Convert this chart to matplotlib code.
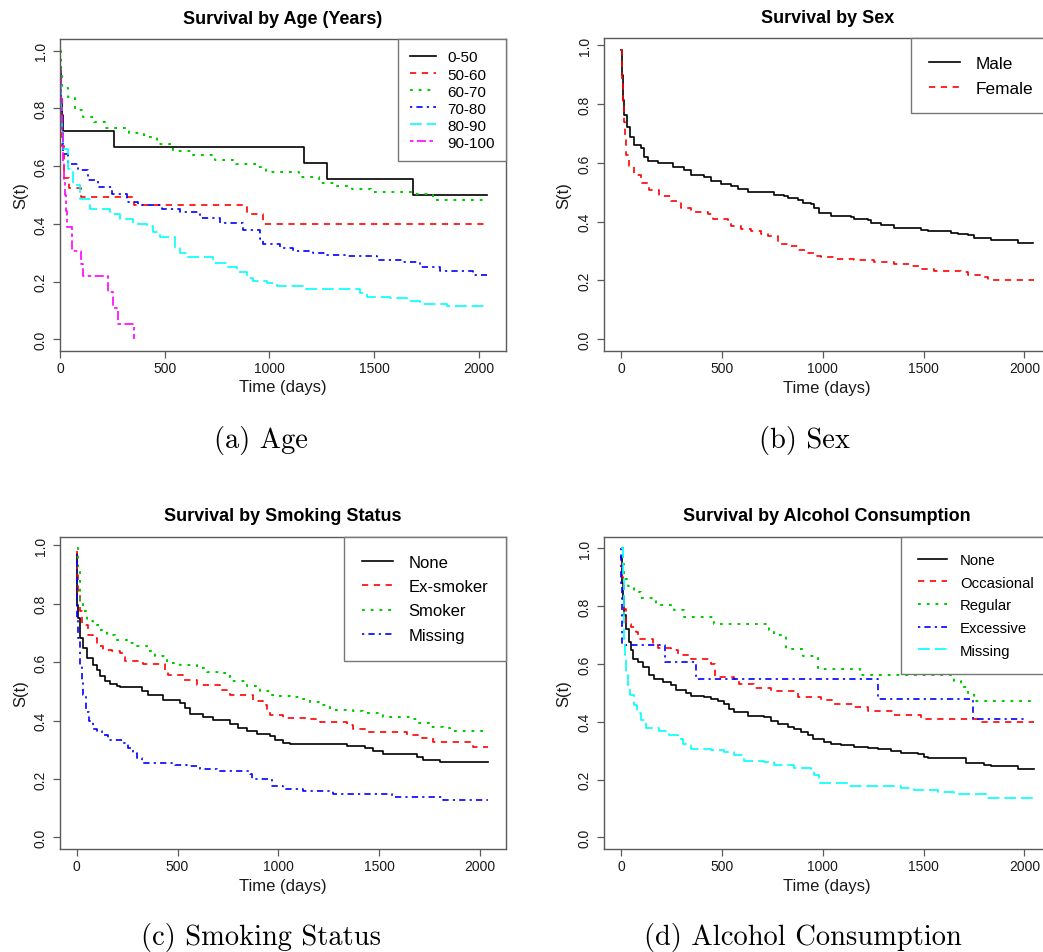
import matplotlib
matplotlib.use("Agg")
import matplotlib.pyplot as plt

plt.rcParams['font.family'] = ['Liberation Sans', 'DejaVu Sans']
plt.rcParams['lines.scale_dashes'] = False

# ---- data (time in days, survival) ----
# (a) age
age_labels = ["0-50", "50-60", "60-70", "70-80", "80-90", "90-100"]
age_0_50_t = [0, 2, 4, 6, 9, 12, 259, 1165, 1273, 1687, 2040]
age_0_50_s = [1.0, 0.944, 0.889, 0.833, 0.778, 0.722, 0.667, 0.611, 0.556, 0.500, 0.500]
age_50_60_t = [0, 2, 4, 7, 10, 18, 45, 100, 352, 895, 971, 2040]
age_50_60_s = [1.0, 0.9, 0.8, 0.72, 0.67, 0.56, 0.524, 0.494, 0.466, 0.433, 0.40, 0.40]
age_60_70_t = [0, 3, 8, 40, 70, 110, 160, 215, 330, 400, 461, 541, 630, 740, 840, 940,
               985, 1140, 1235, 1315, 1395, 1485, 1690, 1780, 2045]
age_60_70_s = [1.0, 0.93, 0.87, 0.84, 0.793, 0.77, 0.752, 0.732, 0.714, 0.70, 0.675, 0.654,
               0.639, 0.622, 0.606, 0.596, 0.579, 0.562, 0.541, 0.531, 0.52, 0.51, 0.505, 0.484, 0.484]
age_70_80_t = [0, 2, 5, 9, 16, 40, 88, 135, 183, 247, 318, 374, 485, 573, 668, 764, 875, 955,
               970, 1050, 1114, 1209, 1273, 1368, 1511, 1639, 1718, 1814, 1973, 2036]
age_70_80_s = [1.0, 0.9, 0.8, 0.72, 0.643, 0.608, 0.585, 0.551, 0.528, 0.505, 0.476, 0.467,
               0.453, 0.441, 0.422, 0.404, 0.378, 0.349, 0.332, 0.317, 0.306, 0.30, 0.294, 0.288,
               0.276, 0.268, 0.251, 0.236, 0.224, 0.224]
age_80_90_t = [0, 2, 5, 9, 16, 40, 63, 95, 143, 239, 286, 350, 414, 445, 477, 549, 573, 605,
               732, 796, 843, 891, 923, 986, 1034, 1161, 1432, 1464, 1575, 1655, 1718, 1846, 2045]
age_80_90_s = [1.0, 0.9, 0.8, 0.72, 0.66, 0.591, 0.533, 0.487, 0.45, 0.435, 0.418, 0.399, 0.393,
               0.372, 0.355, 0.315, 0.30, 0.286, 0.263, 0.251, 0.232, 0.213, 0.203, 0.194, 0.185,
               0.176, 0.162, 0.147, 0.142, 0.132, 0.124, 0.116, 0.116]
age_90_100_t = [0, 2, 4, 6, 8, 10, 13, 16, 20, 24, 28, 32, 56, 99, 112, 228, 255, 279, 353]
age_90_100_s = [1.0, 0.944, 0.889, 0.833, 0.778, 0.722, 0.667, 0.611, 0.556, 0.5, 0.444, 0.389,
                0.305, 0.262, 0.218, 0.164, 0.109, 0.055, 0.0]

# (b) sex
sex_labels = ["Male", "Female"]
male_t = [0, 3, 8, 16, 30, 46, 66, 99, 116, 132, 182, 256, 314, 347, 413, 446, 496, 545, 578,
          628, 760, 810, 826, 876, 901, 942, 958, 983, 1041, 1140, 1157, 1223, 1239, 1289, 1355,
          1438, 1487, 1520, 1636, 1669, 1719, 1752, 1834, 1967, 2041]
male_s = [0.985, 0.90, 0.815, 0.764, 0.724, 0.69, 0.662, 0.65, 0.62, 0.605, 0.599, 0.585, 0.577,
          0.56, 0.552, 0.537, 0.529, 0.523, 0.512, 0.50, 0.491, 0.489, 0.48, 0.474, 0.465, 0.461,
          0.446, 0.429, 0.42, 0.415, 0.41, 0.404, 0.395, 0.387, 0.38, 0.378, 0.372, 0.369, 0.363,
          0.359, 0.353, 0.344, 0.339, 0.329, 0.329]
female_t = [0, 3, 8, 13, 20, 26, 41, 66, 99, 140, 190, 248, 297, 347, 430, 454, 529, 545, 595,
            645, 694, 727, 777, 826, 876, 925, 958, 992, 1058, 1157, 1256, 1355, 1438, 1487,
            1553, 1686, 1719, 1801, 1818, 2049]
female_s = [0.985, 0.88, 0.80, 0.741, 0.684, 0.627, 0.588, 0.559, 0.531, 0.508, 0.486, 0.469,
            0.446, 0.432, 0.426, 0.41, 0.401, 0.384, 0.376, 0.367, 0.359, 0.35, 0.325, 0.316,
            0.304, 0.293, 0.284, 0.279, 0.272, 0.268, 0.262, 0.257, 0.25, 0.238, 0.233, 0.228,
            0.219, 0.213, 0.202, 0.202]

# (c) smoking status
smoke_labels = ["None", "Ex-smoker", "Smoker", "Missing"]
none_t = [0, 3, 8, 16, 33, 49, 82, 99, 116, 140, 165, 198, 215, 322, 355, 430, 512, 537, 562,
          628, 678, 760, 802, 843, 892, 959, 983, 1025, 1058, 1339, 1430, 1471, 1520, 1686,
          1719, 1801, 2041]
none_s = [0.97, 0.797, 0.751, 0.683, 0.648, 0.616, 0.591, 0.574, 0.551, 0.534, 0.526, 0.519,
          0.514, 0.50, 0.486, 0.471, 0.46, 0.443, 0.422, 0.411, 0.403, 0.388, 0.374, 0.363,
          0.355, 0.346, 0.332, 0.323, 0.32, 0.312, 0.306, 0.295, 0.285, 0.274, 0.264, 0.257, 0.257]
exsmoker_t = [0, 3, 8, 16, 25, 58, 82, 99, 132, 173, 215, 240, 330, 438, 454, 529, 595, 711,
              760, 876, 925, 942, 959, 1025, 1157, 1206, 1339, 1372, 1438, 1636, 1710, 1768,
              1967, 2041]
exsmoker_s = [0.98, 0.90, 0.842, 0.774, 0.726, 0.694, 0.683, 0.654, 0.643, 0.637, 0.631, 0.603,
              0.593, 0.574, 0.556, 0.54, 0.523, 0.506, 0.489, 0.468, 0.454, 0.432, 0.418, 0.409,
              0.406, 0.395, 0.386, 0.371, 0.36, 0.352, 0.342, 0.326, 0.308, 0.308]
smoker_t = [0, 8, 16, 33, 49, 82, 116, 149, 190, 248, 297, 347, 388, 446, 512, 595, 645, 711,
            760, 843, 909, 959, 992, 1074, 1107, 1157, 1206, 1256, 1372, 1421, 1520, 1653,
            1686, 1752, 1818, 1851, 2041]
smoker_s = [0.99, 0.911, 0.814, 0.774, 0.74, 0.726, 0.711, 0.694, 0.677, 0.665, 0.654, 0.637,
            0.62, 0.597, 0.591, 0.58, 0.568, 0.563, 0.534, 0.517, 0.50, 0.489, 0.483, 0.481,
            0.474, 0.463, 0.452, 0.437, 0.432, 0.426, 0.414, 0.406, 0.392, 0.377, 0.374, 0.366, 0.366]
smk_missing_t = [0, 2, 3, 8, 16, 25, 33, 46, 63, 79, 99, 124, 157, 231, 256, 281, 297, 322, 331,
                 488, 545, 611, 694, 859, 868, 967, 1025, 1124, 1273, 1562, 1818, 2041]
smk_missing_s = [0.97, 0.80, 0.75, 0.683, 0.591, 0.534, 0.488, 0.431, 0.397, 0.372, 0.363,
                 0.351, 0.334, 0.323, 0.306, 0.289, 0.272, 0.262, 0.255, 0.249, 0.243, 0.235,
                 0.228, 0.217, 0.201, 0.175, 0.166, 0.158, 0.148, 0.138, 0.127, 0.127]

# (d) alcohol consumption
alc_labels = ["None", "Occasional", "Regular", "Excessive", "Missing"]
alc_none_t = [0, 3, 8, 16, 25, 41, 50, 58, 83, 107, 140, 165, 207, 248, 273, 322, 347, 413, 446,
              479, 512, 537, 562, 628, 711, 744, 777, 826, 859, 892, 925, 950, 1008, 1041, 1091,
              1157, 1223, 1273, 1339, 1388, 1471, 1504, 1520, 1710, 1801, 1834, 1967, 2049]
alc_none_s = [0.97, 0.88, 0.825, 0.768, 0.722, 0.676, 0.647, 0.618, 0.607, 0.59, 0.561, 0.549,
              0.538, 0.526, 0.509, 0.50, 0.489, 0.486, 0.48, 0.471, 0.461, 0.444, 0.434, 0.421,
              0.415, 0.402, 0.391, 0.383, 0.374, 0.366, 0.354, 0.34, 0.331, 0.323, 0.32, 0.314,
              0.31, 0.306, 0.299, 0.293, 0.287, 0.279, 0.274, 0.259, 0.251, 0.247, 0.237, 0.237]
occasional_t = [0, 3, 8, 17, 25, 50, 74, 83, 157, 182, 248, 281, 347, 446, 466, 562, 587, 661,
                744, 876, 992, 1049, 1157, 1223, 1355, 1487, 1768, 2049]
occasional_s = [0.95, 0.90, 0.871, 0.791, 0.739, 0.728, 0.71, 0.687, 0.667, 0.655, 0.647, 0.63,
                0.618, 0.601, 0.555, 0.549, 0.532, 0.518, 0.507, 0.484, 0.475, 0.461, 0.452,
                0.438, 0.425, 0.411, 0.398, 0.398]
regular_t = [0, 8, 17, 33, 66, 99, 174, 264, 314, 463, 735, 760, 818, 901, 975, 1187, 1653,
             1686, 1719, 1752, 2049]
regular_s = [1.0, 0.946, 0.894, 0.869, 0.848, 0.828, 0.805, 0.785, 0.762, 0.739, 0.718, 0.699,
             0.653, 0.628, 0.584, 0.561, 0.54, 0.521, 0.50, 0.471, 0.471]
excessive_t = [0, 1, 2, 3, 4, 6, 220, 372, 1273, 1744, 2008]
excessive_s = [1.0, 0.933, 0.867, 0.80, 0.733, 0.667, 0.606, 0.548, 0.478, 0.411, 0.411]
alc_missing_t = [0, 8, 13, 16, 20, 25, 33, 46, 63, 79, 99, 124, 190, 240, 281, 306, 347, 446,
                 512, 562, 611, 711, 760, 859, 942, 958, 983, 1132, 1388, 1454, 1570, 1653,
                 1818, 2049]
alc_missing_s = [1.0, 0.90, 0.802, 0.687, 0.63, 0.572, 0.526, 0.492, 0.457, 0.429, 0.406, 0.377,
                 0.368, 0.354, 0.342, 0.322, 0.306, 0.302, 0.297, 0.285, 0.266, 0.26, 0.251,
                 0.239, 0.233, 0.216, 0.187, 0.179, 0.172, 0.164, 0.156, 0.149, 0.136, 0.136]

# R-like colours and line types (lty 1..6)
colors = ["#000000", "#FF0000", "#00CD00", "#0000FF", "#00FFFF", "#FF00FF"]
ltys = ["-", (0, (4.5, 4.0)), (0, (2.0, 4.3)), (0, (1.6, 3.0, 4.5, 3.0)),
        (0, (8.5, 3.5)), (0, (2.5, 2.5, 6.5, 2.5))]
lws = [1.2, 1.2, 1.45, 1.2, 1.2, 1.2]

W, H = 1043, 953
fig = plt.figure(figsize=(W / 100, H / 100), dpi=100)
GRAY = "#5a5a5a"


def place(left, top, right, bottom):
    return fig.add_axes([left / W, 1 - bottom / H, (right - left) / W, (bottom - top) / H])


def panel(ax, curves, labels, title, xlim, ylim, leg):
    for i, (t, s) in enumerate(curves):
        ax.step(t, s, where="post", color=colors[i], linestyle=ltys[i], lw=lws[i],
                label=labels[i])
    ax.set_xlim(*xlim)
    ax.set_ylim(*ylim)
    ax.set_xticks([0, 500, 1000, 1500, 2000])
    ax.set_yticks([0, 0.2, 0.4, 0.6, 0.8, 1.0])
    ax.set_yticklabels(["0.0", "0.2", "0.4", "0.6", "0.8", "1.0"])
    for sp in ax.spines.values():
        sp.set_color(GRAY)
        sp.set_linewidth(1.0)
    ax.tick_params(axis="both", direction="out", length=5, width=0.9, color=GRAY,
                   labelsize=10, labelcolor="#1a1a1a")
    ax.tick_params(axis="x", pad=2.5)
    ax.tick_params(axis="y", pad=4, labelrotation=90)
    for lab in ax.get_yticklabels():
        lab.set_va("center")
    ax.set_xlabel("Time (days)", fontsize=12, color="#1a1a1a")
    ax.set_ylabel("S(t)", fontsize=12, color="#1a1a1a")
    ax.xaxis.label.set_va("center")
    ax.yaxis.label.set_va("center")
    ax.text(0.5, leg["ty"], title, transform=ax.transAxes, ha="center", va="center",
            fontsize=13, fontweight="bold")
    lg = ax.legend(loc="upper right", fancybox=False, edgecolor="#777777", framealpha=1,
                   borderaxespad=0, fontsize=leg["fs"], handlelength=leg["hl"],
                   handletextpad=leg["hp"], labelspacing=leg["ls"], borderpad=leg["bp"])
    lg.get_frame().set_linewidth(1.0)
    return ax


# (a)
ax_a = place(60, 40, 506, 352)
panel(ax_a, [(age_0_50_t, age_0_50_s), (age_50_60_t, age_50_60_s), (age_60_70_t, age_60_70_s),
             (age_70_80_t, age_70_80_s), (age_80_90_t, age_80_90_s),
             (age_90_100_t, age_90_100_s)],
      age_labels, "Survival by Age (Years)", (0, 2129), (-0.04, 1.04),
      dict(fs=11, hl=1.7, hp=0.75, ls=0.2, bp=0.75, ty=1.066))
ax_a.xaxis.set_label_coords(0.5, -0.115)
ax_a.yaxis.set_label_coords(-0.088, 0.5)

# (b)
ax_b = place(604.3, 39.3, 1050, 351.7)
panel(ax_b, [(male_t, male_s), (female_t, female_s)], sex_labels, "Survival by Sex",
      (-83, 2127), (-0.0394, 1.0244),
      dict(fs=12.4, hl=1.8, hp=0.9, ls=0.6, bp=1.0, ty=1.066))
ax_b.xaxis.set_label_coords(0.5, -0.117)
ax_b.yaxis.set_label_coords(-0.092, 0.5)

# (c)
ax_c = place(60, 537.7, 506, 850)
panel(ax_c, [(none_t, none_s), (exsmoker_t, exsmoker_s), (smoker_t, smoker_s),
             (smk_missing_t, smk_missing_s)],
      smoke_labels, "Survival by Smoking Status", (-83, 2129), (-0.0396, 1.0296),
      dict(fs=12, hl=1.9, hp=0.9, ls=0.56, bp=1.08, ty=1.067))
ax_c.xaxis.set_label_coords(0.5, -0.1175)
ax_c.yaxis.set_label_coords(-0.088, 0.5)

# (d)
ax_d = place(604.3, 537.7, 1050, 850)
panel(ax_d, [(alc_none_t, alc_none_s), (occasional_t, occasional_s), (regular_t, regular_s),
             (excessive_t, excessive_s), (alc_missing_t, alc_missing_s)],
      alc_labels, "Survival by Alcohol Consumption", (-83, 2127), (-0.04, 1.04),
      dict(fs=10.7, hl=1.95, hp=0.9, ls=0.58, bp=1.1, ty=1.067))
ax_d.xaxis.set_label_coords(0.5, -0.1175)
ax_d.yaxis.set_label_coords(-0.092, 0.5)

# sub-captions in a LaTeX-like serif
captions = ["(a) Age", "(b) Sex", "(c) Smoking Status", "(d) Alcohol Consumption"]
cap_pos = [(261, 441), (804, 441), (261, 938), (803, 938)]
for txt, (cx, cy) in zip(captions, cap_pos):
    fig.text(cx / W, 1 - cy / H, txt, ha="center", va="center", fontsize=20.5,
             family=["cmr10", "DejaVu Serif"])

fig.savefig("out.png", dpi=100)
